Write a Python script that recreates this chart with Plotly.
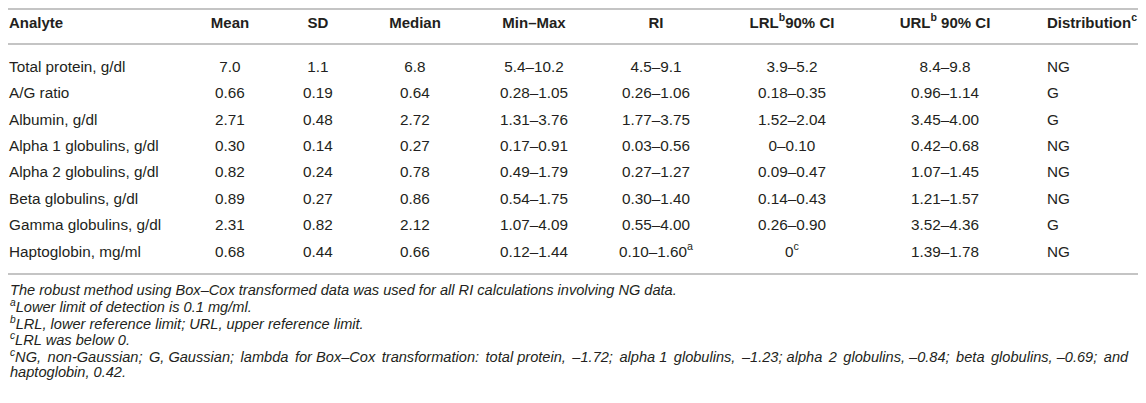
import plotly.graph_objects as go

W, H = 1146, 403
PAGE_MARGIN = 8  # default <body> margin of the written page
FONT = "Liberation Sans, Arial, sans-serif"
INK = "#231f20"
RULE = "#c4c4c4"

# ---- table content ----
HEADERS = ["Analyte", "Mean", "SD", "Median", "Min–Max", "RI",
           "LRL<sup>b</sup>90% CI", "URL<sup>b</sup> 90% CI", "Distribution<sup>c</sup>"]
ANALYTE = ["Total protein, g/dl", "A/G ratio", "Albumin, g/dl", "Alpha 1 globulins, g/dl",
           "Alpha 2 globulins, g/dl", "Beta globulins, g/dl", "Gamma globulins, g/dl",
           "Haptoglobin, mg/ml"]
MEAN = ["7.0", "0.66", "2.71", "0.30", "0.82", "0.89", "2.31", "0.68"]
SD = ["1.1", "0.19", "0.48", "0.14", "0.24", "0.27", "0.82", "0.44"]
MEDIAN = ["6.8", "0.64", "2.72", "0.27", "0.78", "0.86", "2.12", "0.66"]
MINMAX = ["5.4–10.2", "0.28–1.05", "1.31–3.76", "0.17–0.91", "0.49–1.79", "0.54–1.75",
          "1.07–4.09", "0.12–1.44"]
RI = ["4.5–9.1", "0.26–1.06", "1.77–3.75", "0.03–0.56", "0.27–1.27", "0.30–1.40",
      "0.55–4.00", "0.10–1.60<sup>a</sup>"]
LRL = ["3.9–5.2", "0.18–0.35", "1.52–2.04", "0–0.10", "0.09–0.47", "0.14–0.43",
       "0.26–0.90", "0<sup>c</sup>"]
URL = ["8.4–9.8", "0.96–1.14", "3.45–4.00", "0.42–0.68", "1.07–1.45", "1.21–1.57",
       "3.52–4.36", "1.39–1.78"]
DIST = ["NG", "G", "G", "NG", "NG", "NG", "G", "NG"]

FOOTNOTES = [
    "The robust method using Box–Cox transformed data was used for all RI calculations involving NG data.",
    "<sup>a</sup>Lower limit of detection is 0.1 mg/ml.",
    "<sup>b</sup>LRL, lower reference limit; URL, upper reference limit.",
    "<sup>c</sup>LRL was below 0.",
    ("<sup>c</sup>NG, non-Gaussian; G, Gaussian; lambda for Box–Cox transformation: total protein, –1.72; "
     "alpha 1 globulins, –1.23; alpha 2 globulins, –0.84; beta globulins, –0.69; and"),
    "haptoglobin, 0.42.",
]
JUSTIFIED = [False, False, False, False, True, False]  # wrapped line set full width


def justify(text):
    # widen two of every three word gaps so the line runs to the right edge
    parts = text.split(" ")
    out = parts[0]
    for k, p in enumerate(parts[1:]):
        out += (" \u2006" if k % 3 != 2 else " ") + p
    return out


COLUMNS = [ANALYTE, MEAN, SD, MEDIAN, MINMAX, RI, LRL, URL, DIST]

# layout (page pixels); the figure itself starts at PAGE_MARGIN
LEFT = PAGE_MARGIN + 1
COL_X = [LEFT, 230, 318, 415, 534, 656, 792, 945, 1047]
COL_POS = ["middle right", "middle center", "middle center", "middle center", "middle center",
           "middle center", "middle center", "middle center", "middle right"]
HEAD_Y = 24
ROW_Y0, ROW_DY = 68, 26.4
FOOT_Y0, FOOT_DY = 290, 16.4
RULES_Y = [PAGE_MARGIN + 1, 44, 274]

fig = go.Figure()

row_y = [ROW_Y0 + ROW_DY * i for i in range(len(ANALYTE))]
for col, x, pos, head in zip(COLUMNS, COL_X, COL_POS, HEADERS):
    # header cell
    fig.add_trace(go.Scatter(
        x=[x], y=[HEAD_Y], mode="text", text=[f"<b>{head}</b>"], textposition=pos,
        textfont=dict(family=FONT, size=15, color=INK),
        showlegend=False, hoverinfo="skip", cliponaxis=False,
    ))
    # body cells
    fig.add_trace(go.Scatter(
        x=[x] * len(col), y=row_y, mode="text", text=col, textposition=pos,
        textfont=dict(family=FONT, size=15.3, color=INK),
        showlegend=False, hoverinfo="skip", cliponaxis=False,
    ))

for i, (note, just) in enumerate(zip(FOOTNOTES, JUSTIFIED)):
    if just:
        note = justify(note)
    fig.add_annotation(x=LEFT, y=FOOT_Y0 + FOOT_DY * i, text=f"<i>{note}</i>", showarrow=False,
                       xanchor="left", yanchor="middle", xref="x", yref="y", borderpad=0,
                       font=dict(family=FONT, size=14.6, color=INK))

for y in RULES_Y:
    fig.add_shape(type="line", x0=PAGE_MARGIN, x1=W, y0=y, y1=y, xref="x", yref="y",
                  line=dict(color=RULE, width=2))

fig.update_xaxes(range=[PAGE_MARGIN, W], visible=False, fixedrange=True)
fig.update_yaxes(range=[H, PAGE_MARGIN], visible=False, fixedrange=True)
fig.update_layout(width=W - PAGE_MARGIN, height=H - PAGE_MARGIN,
                  margin=dict(l=0, r=0, t=0, b=0),
                  plot_bgcolor="white", paper_bgcolor="white")
fig.write_html("out.html")
